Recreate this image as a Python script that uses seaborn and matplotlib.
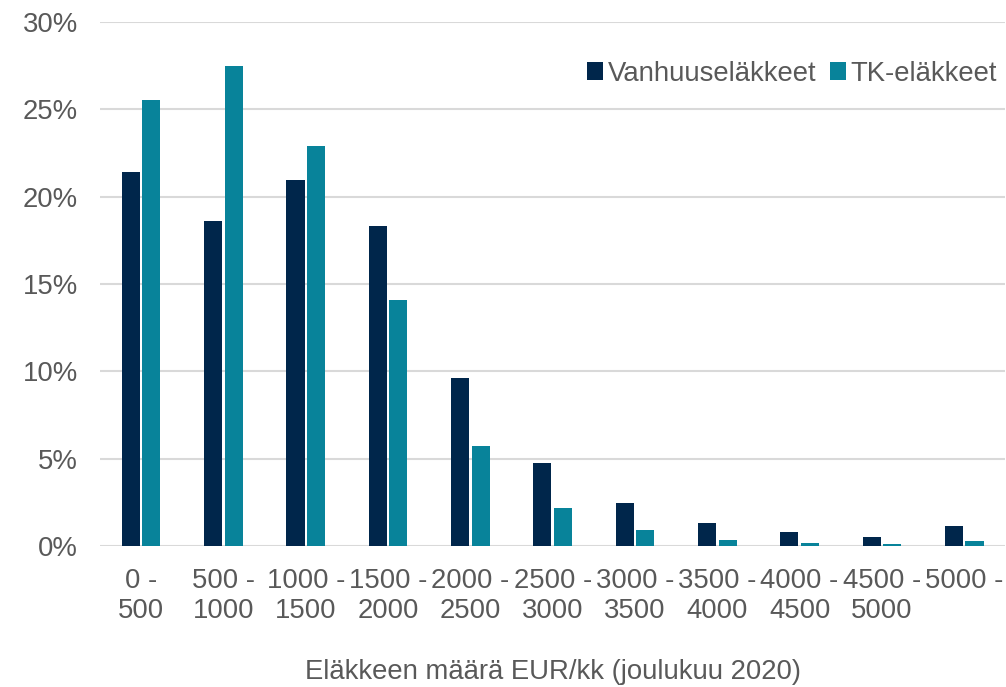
import matplotlib
matplotlib.use("Agg")
import matplotlib.pyplot as plt
import seaborn as sns
import pandas as pd
from matplotlib.ticker import FuncFormatter

categories = ["0 -\n500", "500 -\n1000", "1000 -\n1500", "1500 -\n2000", "2000 -\n2500",
              "2500 -\n3000", "3000 -\n3500", "3500 -\n4000", "4000 -\n4500", "4500 -\n5000", "5000 -"]
vanhuus = [21.4, 18.6, 20.95, 18.3, 9.6, 4.75, 2.45, 1.32, 0.8, 0.5, 1.12]
tk = [25.5, 27.5, 22.9, 14.1, 5.75, 2.18, 0.92, 0.35, 0.17, 0.1, 0.28]
series_names = ["Vanhuuseläkkeet", "TK-eläkkeet"]
colors = ["#00264B", "#08839A"]

rows = []
for c, v in zip(categories, vanhuus):
    rows.append({"cat": c, "val": v, "series": series_names[0]})
for c, v in zip(categories, tk):
    rows.append({"cat": c, "val": v, "series": series_names[1]})
df = pd.DataFrame(rows)

sns.set_style("white")
plt.rcParams['font.family'] = ['Liberation Sans', 'DejaVu Sans']

FS = 19.8
fig = plt.figure(figsize=(10.06, 6.87), dpi=100)
ax = fig.add_axes([0.0994, 0.2052, 0.9, 0.763])

sns.barplot(data=df, x="cat", y="val", hue="series", order=categories,
            hue_order=series_names, palette=colors, width=0.5, gap=0.12,
            saturation=1, linewidth=0, ax=ax, legend=True)

ax.set_ylim(0, 30)
ax.set_xlim(-0.5, len(categories) - 0.5)
ax.set_yticks([0, 5, 10, 15, 20, 25, 30])
ax.yaxis.set_major_formatter(FuncFormatter(lambda v, p: f"{int(v)}%"))
ax.grid(axis="y", color="#D9D9D9", linewidth=1.5)
ax.set_axisbelow(True)
for s in ax.spines.values():
    s.set_visible(False)
ax.tick_params(axis="both", length=0, labelsize=FS, labelcolor="#595959")
ax.tick_params(axis="y", pad=16)
ax.tick_params(axis="x", pad=16)
ax.set_ylabel("")
ax.set_xlabel("Eläkkeen määrä EUR/kk (joulukuu 2020)", fontsize=FS, color="#595959", labelpad=25)

handles, labels = ax.get_legend_handles_labels()
ax.legend(handles, labels, loc="center right", bbox_to_anchor=(0.991, 0.893),
          bbox_transform=fig.transFigure, ncol=2, frameon=False, fontsize=FS,
          labelcolor="#595959", handlelength=0.6, handleheight=0.6,
          handletextpad=0.15, columnspacing=0.5, borderaxespad=0, borderpad=0)

fig.savefig("out.png", dpi=100)
